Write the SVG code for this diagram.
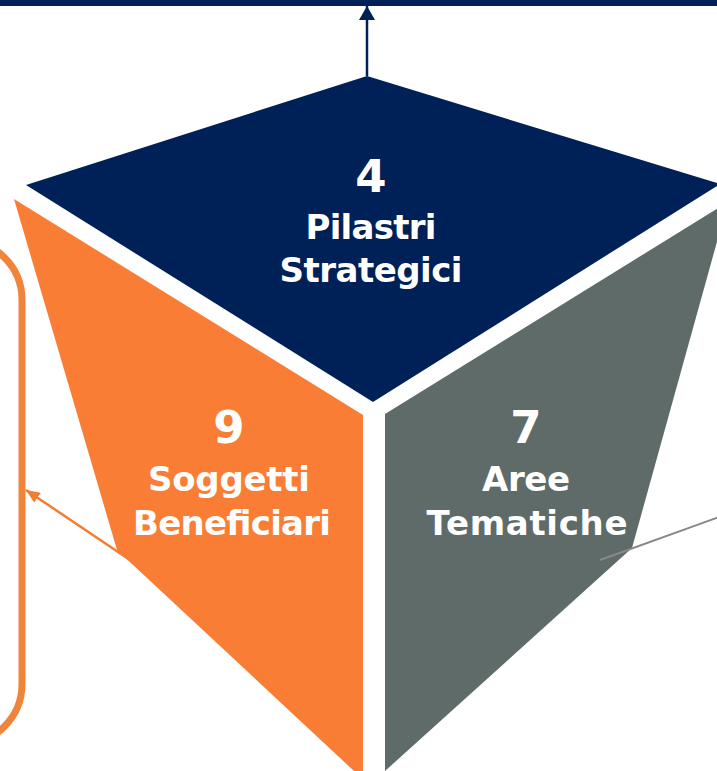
<svg xmlns="http://www.w3.org/2000/svg" width="717" height="771" viewBox="0 0 717 771">
<style>
.lbl{font-family:"DejaVu Sans","Liberation Sans",sans-serif;font-weight:bold;fill:#ffffff;text-anchor:middle}
.num{font-size:45px}
.txt{font-size:34px}
</style>
<defs>
<marker id="ahNavy" markerWidth="14" markerHeight="16" refX="14" refY="8" orient="auto" markerUnits="userSpaceOnUse" viewBox="0 0 14 16">
<path d="M0,0 L14,8 L0,16 Z" fill="#002157"/>
</marker>
<marker id="ahOrange" markerWidth="14" markerHeight="12" refX="14" refY="6" orient="auto" markerUnits="userSpaceOnUse" viewBox="0 0 14 12">
<path d="M0,0 L14,6 L0,12 Z" fill="#f47d30"/>
</marker>
</defs>
<rect x="0" y="0" width="717" height="6" fill="#002157"/>
<g id="bracket">
<rect x="-300" y="240" width="322" height="504" rx="60" ry="60" fill="none" stroke="#f0843a" stroke-width="7"/>
</g>
<g id="pilastri">
<polygon points="367,76 720,184 373,402 26,185" fill="#002157"/>
<text class="lbl num" x="371" y="192">4</text>
<text class="lbl txt" x="371" y="239" textLength="131">Pilastri</text>
<text class="lbl txt" x="371" y="282" textLength="183">Strategici</text>
</g>
<g id="soggetti">
<polygon points="14,199 363,415 363,771 354,771 117,550" fill="#f97d34"/>
<text class="lbl num" x="229" y="443">9</text>
<text class="lbl txt" x="229" y="491" textLength="162">Soggetti</text>
<text class="lbl txt" x="232" y="535" textLength="198">Beneficiari</text>
</g>
<g id="aree">
<polygon points="385,414 728,202 632,548 385,771" fill="#5f6b69"/>
<text class="lbl num" x="526" y="443">7</text>
<text class="lbl txt" x="526" y="491" textLength="88">Aree</text>
<text class="lbl txt" x="527" y="535" textLength="201">Tematiche</text>
</g>
<g id="connectors">
<line x1="367" y1="76" x2="367" y2="6" stroke="#002157" stroke-width="2.5" marker-end="url(#ahNavy)"/>
<line x1="130" y1="560" x2="26" y2="490" stroke="#f47d30" stroke-width="2.5" marker-end="url(#ahOrange)"/>
<line x1="600" y1="560" x2="730" y2="513" stroke="#888888" stroke-width="2"/>
</g>
</svg>
